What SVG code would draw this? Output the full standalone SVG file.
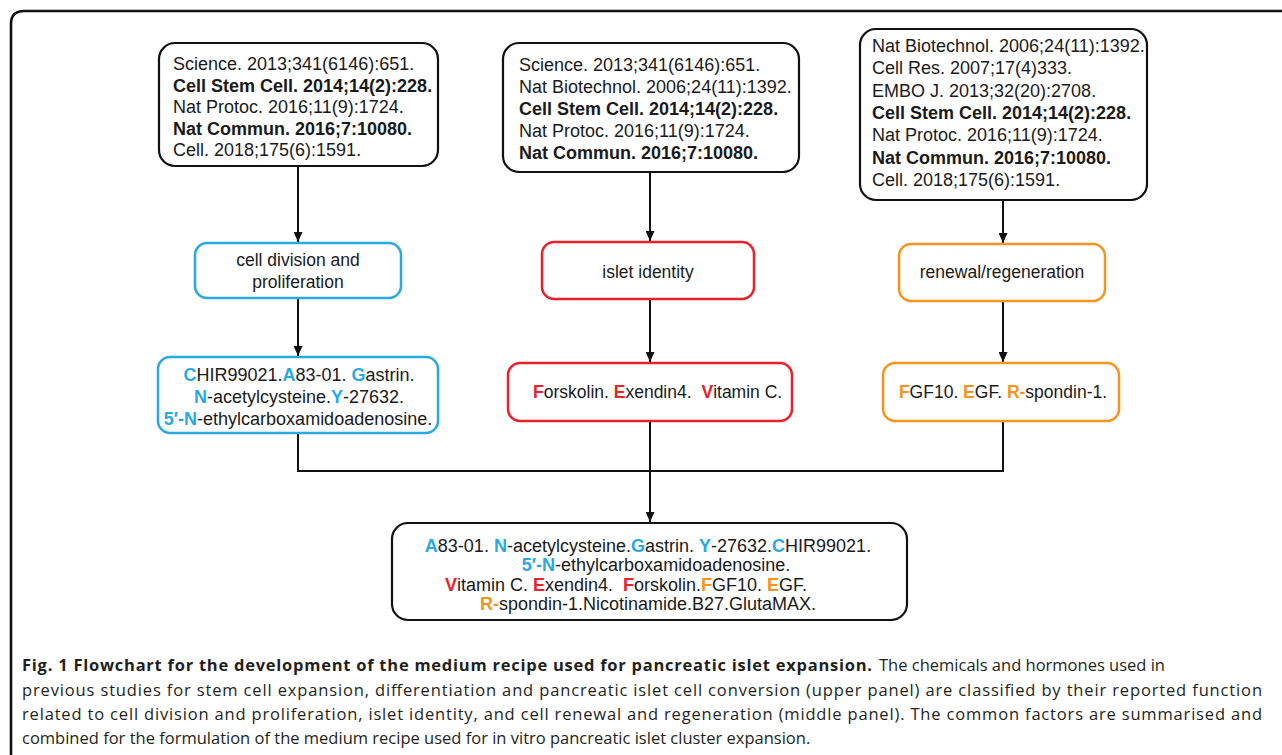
<svg xmlns="http://www.w3.org/2000/svg" width="1282" height="755" viewBox="0 0 1282 755">
<defs>
<style>
.t{font-family:"Liberation Sans",Arial,sans-serif;font-size:17.5px;fill:#1a1a1a}
.lg{font-size:18px}
.b{font-weight:bold}
.bk{fill:#fff;stroke:#111;stroke-width:2.2}
.bl{fill:#fff;stroke:#29a9e1;stroke-width:2.5}
.rd{fill:#fff;stroke:#e8212b;stroke-width:2.5}
.or{fill:#fff;stroke:#f7941e;stroke-width:2.5}
.cb{fill:#29a9e1;font-weight:bold}
.cr{fill:#e8212b;font-weight:bold}
.co{fill:#f7941e;font-weight:bold}
.ln{stroke:#111;stroke-width:2;fill:none}
.cap{font-family:"Open Sans","Noto Sans",sans-serif;font-size:16.5px;fill:#231f20}
</style>
<marker id="ah" markerUnits="userSpaceOnUse" markerWidth="10" markerHeight="9" refX="10" refY="4.5" orient="auto">
<path d="M0,0 L10,4.5 L0,9 z" fill="#111"/>
</marker>
</defs>
<rect width="1282" height="755" fill="#fff"/>
<path d="M11,755 L11,24 Q11,11 24,11 L1282,11" fill="none" stroke="#111" stroke-width="2.6"/>

<g id="connectors">
<line class="ln" x1="298" y1="166" x2="298" y2="242" marker-end="url(#ah)"/>
<line class="ln" x1="298" y1="298" x2="298" y2="356" marker-end="url(#ah)"/>
<line class="ln" x1="650" y1="172" x2="650" y2="241" marker-end="url(#ah)"/>
<line class="ln" x1="650" y1="299" x2="650" y2="362" marker-end="url(#ah)"/>
<line class="ln" x1="1003" y1="200" x2="1003" y2="243" marker-end="url(#ah)"/>
<line class="ln" x1="1003" y1="301" x2="1003" y2="362" marker-end="url(#ah)"/>
<path class="ln" d="M298,433 L298,471 L1003,471 L1003,421"/>
<line class="ln" x1="650" y1="421" x2="650" y2="522" marker-end="url(#ah)"/>
</g>

<g id="ref1">
<rect class="bk" x="159" y="43" width="279" height="123" rx="16"/>
<text class="t lg"><tspan x="173" y="70">Science. 2013;341(6146):651.</tspan><tspan x="173" y="91.5" class="b">Cell Stem Cell. 2014;14(2):228.</tspan><tspan x="173" y="113">Nat Protoc. 2016;11(9):1724.</tspan><tspan x="173" y="134.5" class="b">Nat Commun. 2016;7:10080.</tspan><tspan x="173" y="156">Cell. 2018;175(6):1591.</tspan></text>
</g>

<g id="ref2">
<rect class="bk" x="503" y="43" width="296" height="129" rx="16"/>
<text class="t lg"><tspan x="519" y="71">Science. 2013;341(6146):651.</tspan><tspan x="519" y="93">Nat Biotechnol. 2006;24(11):1392.</tspan><tspan x="519" y="115" class="b">Cell Stem Cell. 2014;14(2):228.</tspan><tspan x="519" y="137">Nat Protoc. 2016;11(9):1724.</tspan><tspan x="519" y="159" class="b">Nat Commun. 2016;7:10080.</tspan></text>
</g>

<g id="ref3">
<rect class="bk" x="860" y="29" width="287" height="171" rx="16"/>
<text class="t lg"><tspan x="872" y="52">Nat Biotechnol. 2006;24(11):1392.</tspan><tspan x="872" y="74.3">Cell Res. 2007;17(4)333.</tspan><tspan x="872" y="96.6">EMBO J. 2013;32(20):2708.</tspan><tspan x="872" y="118.9" class="b">Cell Stem Cell. 2014;14(2):228.</tspan><tspan x="872" y="141.2">Nat Protoc. 2016;11(9):1724.</tspan><tspan x="872" y="163.5" class="b">Nat Commun. 2016;7:10080.</tspan><tspan x="872" y="185.8">Cell. 2018;175(6):1591.</tspan></text>
</g>

<g id="func-blue">
<rect class="bl" x="195" y="243" width="206" height="55" rx="12"/>
<text class="t" text-anchor="middle"><tspan x="298" y="266">cell division and</tspan><tspan x="298" y="288">proliferation</tspan></text>
</g>

<g id="func-red">
<rect class="rd" x="542" y="242" width="212" height="57" rx="12"/>
<text class="t" x="648" y="278" text-anchor="middle">islet identity</text>
</g>

<g id="func-orange">
<rect class="or" x="899" y="244" width="206" height="57" rx="12"/>
<text class="t" x="1002" y="278" text-anchor="middle">renewal/regeneration</text>
</g>

<g id="fac-blue">
<rect class="bl" x="158" y="357" width="280" height="76" rx="12"/>
<text class="t lg" text-anchor="middle"><tspan x="299" y="381"><tspan class="cb">C</tspan>HIR99021.<tspan class="cb">A</tspan>83-01. <tspan class="cb">G</tspan>astrin.</tspan><tspan x="299" y="403"><tspan class="cb">N</tspan>-acetylcysteine.<tspan class="cb">Y</tspan>-27632.</tspan><tspan x="298" y="424.5"><tspan class="cb">5′-N</tspan>-ethylcarboxamidoadenosine.</tspan></text>
</g>

<g id="fac-red">
<rect class="rd" x="508" y="363" width="284" height="58" rx="12"/>
<text class="t" x="533" y="398"><tspan class="cr">F</tspan>orskolin. <tspan class="cr">E</tspan>xendin4. <tspan class="cr" dx="5">V</tspan>itamin C.</text>
</g>

<g id="fac-orange">
<rect class="or" x="883" y="363" width="236" height="58" rx="12"/>
<text class="t" x="1003" y="398" text-anchor="middle"><tspan class="co">F</tspan>GF10. <tspan class="co">E</tspan>GF. <tspan class="co">R-</tspan>spondin-1.</text>
</g>

<g id="recipe">
<rect class="bk" x="392" y="523" width="515" height="97" rx="16"/>
<text class="t lg" text-anchor="middle"><tspan x="648" y="552"><tspan class="cb">A</tspan>83-01. <tspan class="cb">N</tspan>-acetylcysteine.<tspan class="cb">G</tspan>astrin. <tspan class="cb">Y</tspan>-27632.<tspan class="cb">C</tspan>HIR99021.</tspan><tspan x="656" y="571"><tspan class="cb">5′-N</tspan>-ethylcarboxamidoadenosine.</tspan><tspan x="626" y="590.5"><tspan class="cr">V</tspan>itamin C. <tspan class="cr">E</tspan>xendin4. <tspan class="cr" dx="5">F</tspan>orskolin.<tspan class="co">F</tspan>GF10. <tspan class="co">E</tspan>GF.</tspan><tspan x="648" y="610"><tspan class="co">R-</tspan>spondin-1.Nicotinamide.B27.GlutaMAX.</tspan></text>
</g>

<g id="caption">
<text class="cap" x="22" y="671" font-weight="bold" textLength="850" lengthAdjust="spacing">Fig. 1 Flowchart for the development of the medium recipe used for pancreatic islet expansion.</text>
<text class="cap" x="879" y="671">The chemicals and hormones used in</text>
<text class="cap" x="22" y="696" textLength="1240" lengthAdjust="spacing">previous studies for stem cell expansion, differentiation and pancreatic islet cell conversion (upper panel) are classified by their reported function</text>
<text class="cap" x="22" y="720" textLength="1240" lengthAdjust="spacing">related to cell division and proliferation, islet identity, and cell renewal and regeneration (middle panel). The common factors are summarised and</text>
<text class="cap" x="22" y="744">combined for the formulation of the medium recipe used for in vitro pancreatic islet cluster expansion.</text>
</g>
</svg>
